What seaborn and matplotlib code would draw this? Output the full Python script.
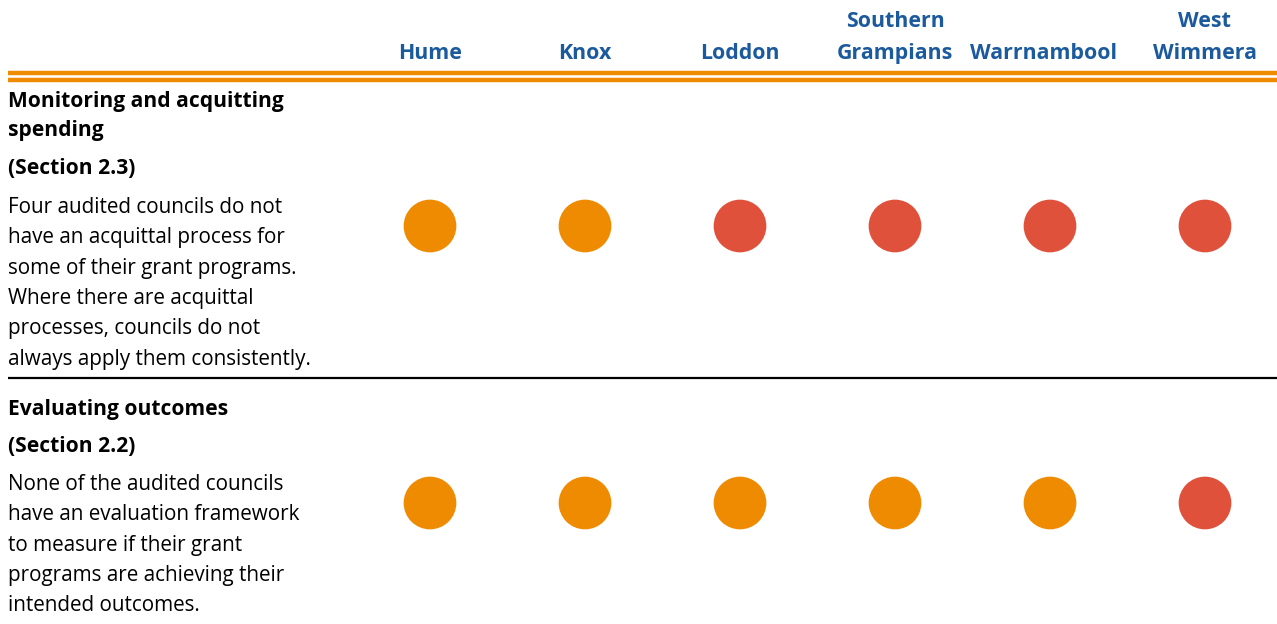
import matplotlib
matplotlib.use("Agg")
import matplotlib.pyplot as plt
import seaborn as sns
import pandas as pd

councils = ["Hume", "Knox", "Loddon", "Southern\nGrampians", "Warrnambool", "West\nWimmera"]
row_titles = ["Monitoring and acquitting\nspending", "Evaluating outcomes"]
row_sections = ["(Section 2.3)", "(Section 2.2)"]
row_texts = [
    "Four audited councils do not\nhave an acquittal process for\nsome of their grant programs.\nWhere there are acquittal\nprocesses, councils do not\nalways apply them consistently.",
    "None of the audited councils\nhave an evaluation framework\nto measure if their grant\nprograms are achieving their\nintended outcomes.",
]
status_row1 = ["partly", "partly", "not", "not", "not", "not"]
status_row2 = ["partly", "partly", "partly", "partly", "partly", "not"]

ORANGE = "#EE8B00"
RED = "#E0513B"
BLUE = "#1C5A9E"

sns.set_theme(style="white")
plt.rcParams["font.family"] = ["Open Sans", "DejaVu Sans"]

W, H = 1277, 624
fig = plt.figure(figsize=(W / 100, H / 100), dpi=100)

# pixel-coordinate overlay for text and rules
pax = fig.add_axes([0, 0, 1, 1])
pax.set_xlim(0, W)
pax.set_ylim(H, 0)
pax.axis("off")

# data axes for the status circles: column i -> x pixel 430 + 155*i, row r -> y pixel 226 + 277*r
dax = fig.add_axes([0, 0, 1, 1])
dax.set_xlim(-430 / 155, (W - 430) / 155)
dax.set_ylim((H - 226) / 277, -226 / 277)
dax.axis("off")
dax.patch.set_alpha(0)

records = []
for r, sts in enumerate([status_row1, status_row2]):
    for i, s in enumerate(sts):
        records.append({"col": i, "row": r, "status": s})
df = pd.DataFrame(records)
sns.scatterplot(data=df, x="col", y="row", hue="status",
                palette={"partly": ORANGE, "not": RED},
                s=1440, linewidth=0, legend=False, ax=dax)

# header labels
for i, name in enumerate(councils):
    xp = 430 + 155 * i
    if name == "Warrnambool":
        xp -= 7
    lines = name.split("\n")
    for k, ln in enumerate(reversed(lines)):
        pax.text(xp, 59 - 32 * k, ln, ha="center", va="baseline", color=BLUE,
                 fontsize=15.4, fontweight="bold")

# double orange rule
pax.plot([8, W], [72.5, 72.5], color=ORANGE, lw=3.2, solid_capstyle="butt")
pax.plot([8, W], [80, 80], color=ORANGE, lw=3.2, solid_capstyle="butt")
# black separator
pax.plot([8, W], [377.5, 377.5], color="black", lw=1.6, solid_capstyle="butt")

# row texts
title_y = [107, 415]
section_y = [174, 452]
body_y = [213, 490]
for r in range(2):
    for k, ln in enumerate(row_titles[r].split("\n")):
        pax.text(8, title_y[r] + 29 * k, ln, ha="left", va="baseline",
                 fontsize=15.1, fontweight="bold", color="black")
    pax.text(8, section_y[r], row_sections[r], ha="left", va="baseline",
             fontsize=15.1, fontweight="bold", color="black")
    for k, ln in enumerate(row_texts[r].split("\n")):
        pax.text(8, body_y[r] + 30.3 * k, ln, ha="left", va="baseline",
                 fontsize=14.9, color="black")

fig.savefig("out.png", dpi=100)
